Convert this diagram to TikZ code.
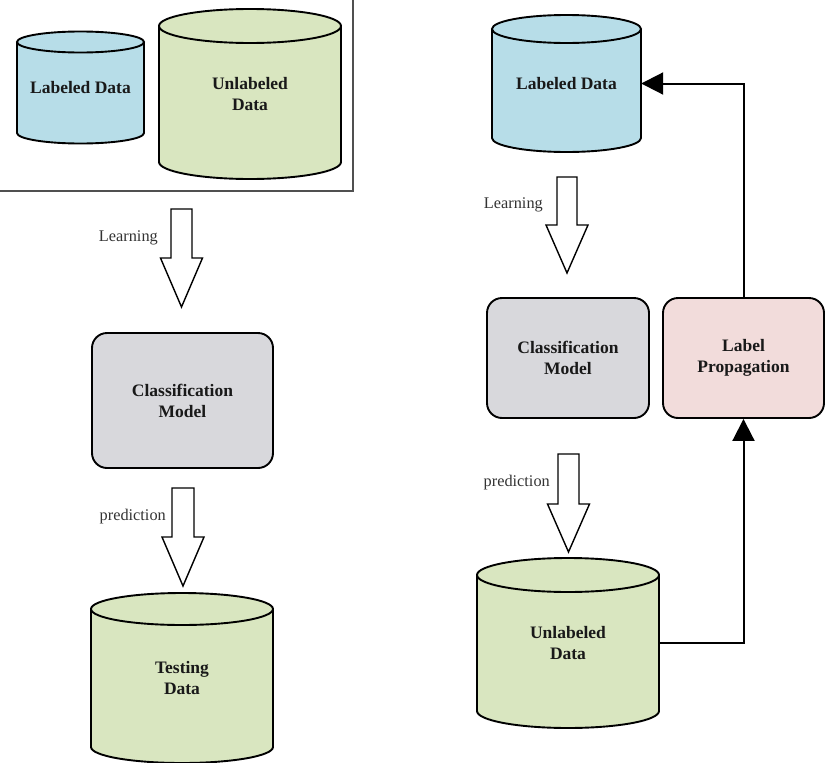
\documentclass[tikz,border=0pt]{standalone}
\usepackage{fontspec}
\setmainfont{Liberation Serif}
\usetikzlibrary{arrows.meta}
\definecolor{cblue}{HTML}{B7DDE8}
\definecolor{cgreen}{HTML}{D9E6C0}
\definecolor{cgray}{HTML}{D8D8DC}
\definecolor{cpink}{HTML}{F2DCDB}
\definecolor{frame}{HTML}{505050}
% \cyl{name}{x1}{x2}{ytop}{ybot}{ry}{colour}{text}
\newcommand{\cyl}[8]{%
  \pgfmathsetmacro{\cxc}{(#2+#3)/2}%
  \pgfmathsetmacro{\crx}{(#3-#2)/2}%
  \pgfmathsetmacro{\cym}{(#4+#5)/2}%
  \pgfmathsetmacro{\cht}{#5-#4}%
  \pgfmathsetmacro{\cwd}{#3-#2}%
  \draw[cylline,fill=#7] (#2,#4) -- (#2,#5) arc[start angle=180,end angle=360,x radius=\crx,y radius=-#6] -- (#3,#4);
  \draw[cylline,fill=#7] (\cxc,#4) ellipse[x radius=\crx,y radius=#6];
  \node[boldtxt,minimum width=\cwd pt,minimum height=\cht pt,inner sep=0pt] (#1) at (\cxc,\cym) {#8};
}
% \blockarrow{name}{xc}{ytop}{yhead}{ytip}{shafthalf}{headhalf}
\newcommand{\blockarrow}[7]{%
  \draw[barrow] (#2-#6,#3) -- (#2+#6,#3) -- (#2+#6,#4) -- (#2+#7,#4) -- (#2,#5) -- (#2-#7,#4) -- (#2-#6,#4) -- cycle;
  \coordinate (#1) at (#2-#6,{(#3+#4)/2});
}
\tikzset{
  cylline/.style={line width=1.9pt,draw=black},
  boldtxt/.style={font=\fontsize{17.5}{21}\selectfont\bfseries,align=center,text=black!90},
  lbl/.style={font=\fontsize{16.3}{19}\selectfont,text=black!80,inner sep=0pt},
  box/.style={draw=black,line width=1.9pt,rounded corners=15pt,inner sep=0pt,boldtxt},
  barrow/.style={draw=black,line width=1.4pt,fill=white,line join=miter},
  conn/.style={draw=black,line width=2pt,-{Triangle[length=22pt,width=22pt]}},
}
\begin{document}
\begin{tikzpicture}[x=1pt,y=-1pt]
\useasboundingbox (0,0) rectangle (825,763);
\fill[white] (0,0) rectangle (825,763);
% frame
\draw[frame,line width=1.3pt] (-5,-5) rectangle (353,191);
% left side
\cyl{ldL}{17}{144}{42}{133}{10.5}{cblue}{Labeled Data}
\cyl{udL}{159}{341}{26}{162}{17}{cgreen}{Unlabeled\\Data}
\blockarrow{learnL}{181.5}{209}{258}{307}{10.5}{21}
\node[lbl,anchor=east] (learnLt) at (158,238) {Learning};
\node[box,fill=cgray,minimum width=181pt,minimum height=135pt] (cmL) at (182.5,400.5) {Classification\\Model};
\blockarrow{predL}{183}{488}{537}{586}{11}{21}
\node[lbl,anchor=east] (predLt) at (166,517) {prediction};
\cyl{tdL}{91}{273}{609}{747}{16}{cgreen}{Testing\\Data}
% right side
\cyl{ldR}{492}{641}{29}{138}{14}{cblue}{Labeled Data}
\blockarrow{learnR}{567}{177}{225}{273}{10}{21}
\node[lbl,anchor=east] (learnRt) at (543,205) {Learning};
\node[box,fill=cgray,minimum width=162pt,minimum height=120pt] (cmR) at (568,358) {Classification\\Model};
\node[box,fill=cpink,minimum width=161pt,minimum height=120pt] (lp) at (743.5,358) {Label\\Propagation};
\blockarrow{predR}{568.5}{454}{504}{552}{10.5}{21}
\node[lbl,anchor=east] (predRt) at (550,483) {prediction};
\cyl{udR}{477}{659}{575}{711}{17}{cgreen}{Unlabeled\\Data}
% connectors
\draw[conn] (udR.east) -| (lp.south);
\draw[conn] (lp.north) |- (ldR.east);
\end{tikzpicture}
\end{document}
